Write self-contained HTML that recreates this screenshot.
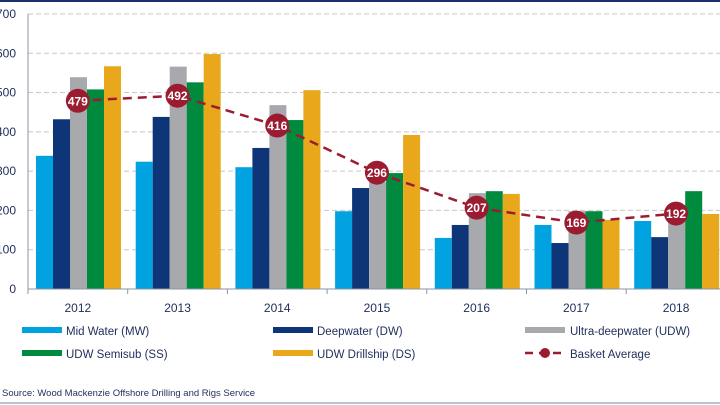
<!DOCTYPE html>
<html><head><meta charset="utf-8"><style>
body{margin:0;background:#fff;}
svg{display:block;font-family:"Liberation Sans",sans-serif;}
</style></head><body>
<svg id="chart" width="720" height="405" viewBox="0 0 720 405">
<rect x="0" y="0" width="720" height="2" fill="#1d2f6b"/>
<rect x="0" y="402" width="720" height="2" fill="#b9c3d6"/>
<g id="grid"></g><g id="bars"></g><g id="line"></g><g id="axes"></g>
<g font-size="11.5" fill="#1f2d5a">
<rect x="22" y="327" width="40" height="6" fill="#00a3e0"/>
<text x="66" y="335">Mid Water (MW)</text>
<rect x="273" y="327" width="40" height="6" fill="#0e3577"/>
<text x="317" y="335">Deepwater (DW)</text>
<rect x="525" y="327" width="40" height="6" fill="#a8a9ad"/>
<text x="570" y="335">Ultra-deepwater (UDW)</text>
<rect x="22" y="350" width="40" height="6" fill="#008a3e"/>
<text x="66" y="358">UDW Semisub (SS)</text>
<rect x="273" y="350" width="40" height="6" fill="#e9a81c"/>
<text x="317" y="358">UDW Drillship (DS)</text>
<line x1="525" y1="353" x2="565" y2="353" stroke="#9b1b30" stroke-width="2.5" stroke-dasharray="8,6"/>
<circle cx="545" cy="353" r="5" fill="#9b1b30"/>
<text x="570" y="358">Basket Average</text>
</g>
<text x="2" y="396" font-size="9.5" fill="#1f2d5a">Source: Wood Mackenzie Offshore Drilling and Rigs Service</text>
</svg>
<script>
const years=["2012","2013","2014","2015","2016","2017","2018"];
const mw=[339,324,310,198,130,163,173];
const dw=[432,438,359,257,163,117,132];
const udw=[539,566,468,272,244,198,214];
const ss=[508,526,430,295,249,198,249];
const ds=[567,598,506,392,242,176,191];
const basket=[479,492,416,296,207,169,192];
const yTicks=[0,100,200,300,400,500,600,700];
const NS="http://www.w3.org/2000/svg";
const x0=28,catW=99.7,base=289,k=0.3929;
const y=v=>base-v*k;
const cx=i=>x0+catW*i+catW/2;
function mk(p,t,a){const e=document.createElementNS(NS,t);for(const n in a)e.setAttribute(n,a[n]);p.appendChild(e);return e;}
const G=document.getElementById('grid'),B=document.getElementById('bars'),L=document.getElementById('line'),A=document.getElementById('axes');
yTicks.forEach(t=>{
 if(t>0){const g=mk(G,'line',{x1:x0,x2:720,y1:y(t),y2:y(t),stroke:'#c8c8c8','stroke-dasharray':'5,3'});
 
 }
 const tx=mk(A,'text',{x:16,y:y(t)+4,'text-anchor':'end','font-size':'12',fill:'#1f2d5a'});
 tx.textContent=t;
 
 
});
const series=[[mw,'#00a3e0','mw'],[dw,'#0e3577','dw'],[udw,'#a8a9ad','udw'],[ss,'#008a3e','ss'],[ds,'#e9a81c','ds']];
const bw=17;
years.forEach((yr,i)=>{
 series.forEach((s,j)=>{
  const v=s[0][i];
  const r=mk(B,'rect',{x:x0+catW*i+8+bw*j,y:y(v),width:bw,height:v*k,fill:s[1]});
  
  
 });
 const t=mk(A,'text',{x:cx(i),y:312,'text-anchor':'middle','font-size':'12',fill:'#1f2d5a'});
 t.textContent=yr;
 
 
 const tk=mk(A,'line',{x1:x0+catW*i,x2:x0+catW*i,y1:base,y2:base+5,stroke:'#8a94a6'});
 
 
});
const ax=mk(A,'line',{x1:x0,x2:x0,y1:14,y2:base,stroke:'#8a94a6'});


const bx=mk(A,'line',{x1:x0,x2:720,y1:base,y2:base,stroke:'#8a94a6'});


const pl=mk(L,'polyline',{points:basket.map((v,i)=>cx(i)+','+y(v)).join(' '),fill:'none',stroke:'#9b1b30','stroke-width':'2.5','stroke-dasharray':'9,6'});


basket.forEach((v,i)=>{
 const c=mk(L,'circle',{cx:cx(i),cy:y(v),r:12,fill:'#9b1b30'});
 
 
 const t=mk(L,'text',{x:cx(i),y:y(v)+4.5,'text-anchor':'middle','font-size':'12','font-weight':'bold',fill:'#fff'});
 t.textContent=v;
 
 
});
</script>
</body></html>
